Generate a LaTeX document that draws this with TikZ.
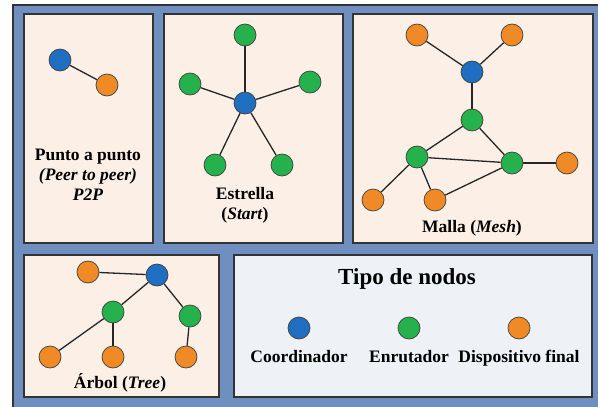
\documentclass[tikz,border=0pt]{standalone}
\usepackage{fontspec}
\setmainfont{Liberation Serif}
\usepackage{xcolor}
\usepackage{tikz}

\definecolor{frameblue}{HTML}{6F8FC0}
\definecolor{panelfill}{HTML}{FCF0E6}
\definecolor{legendfill}{HTML}{EEF2F7}
\definecolor{coordblue}{HTML}{1F6EC2}
\definecolor{routgreen}{HTML}{25B14B}
\definecolor{devorange}{HTML}{F08A26}

\tikzset{
	panel/.style = {draw = black!80, line width = 1.3pt, fill = panelfill},
	nd/.style = {circle, draw = black!75, line width = 0.7pt, minimum size = 22pt, inner sep = 0pt},
	coord/.style = {nd, fill = coordblue},
	rout/.style = {nd, fill = routgreen},
	dev/.style = {nd, fill = devorange},
	lbl/.style = {font = \fontsize{17.5}{20}\selectfont\bfseries, align = center},
	lnk/.style = {draw = black!85, line width = 1.3pt}
}

\begin{document}
\begin{tikzpicture}[x = 1pt, y = -1pt]
	\useasboundingbox (0,0) rectangle (598,407);
	\begin{scope}
	\clip (0,0) rectangle (598,407);
	\draw[fill = frameblue, draw = black!80, line width = 1.5pt] (13,5) rectangle (605,415);
	\end{scope}
	% panels
	\draw[panel] (24,14) rectangle (153,243);
	\draw[panel] (164,14) rectangle (343,243);
	\draw[panel] (353,14) rectangle (593,243);
	\draw[panel] (24,255) rectangle (219,397);
	\draw[panel, fill = legendfill] (234,255) rectangle (592,397);

	% punto a punto
	\node[coord] (p1) at (60,60) {};
	\node[dev] (p2) at (107,85) {};
	\draw[lnk] (p1) -- (p2);
	\node[lbl] (ptxt) at (88,175) {Punto a punto\\\textit{(Peer to peer)}\\\textit{P2P}};

	% estrella
	\node[coord] (s0) at (245,103) {};
	\node[rout] (s1) at (245,35) {};
	\node[rout] (s2) at (190,84) {};
	\node[rout] (s3) at (310,82) {};
	\node[rout] (s4) at (215,165) {};
	\node[rout] (s5) at (282,165) {};
	\foreach \i in {1,...,5} {
	\draw[lnk] (s0) -- (s\i);
	}
	\node[lbl] (stxt) at (245,205) {Estrella\\(\textit{Start})};

	% malla
	\node[dev] (m1) at (417,35) {};
	\node[dev] (m2) at (512,35) {};
	\node[coord] (m3) at (472,72) {};
	\node[rout] (m4) at (472,120) {};
	\node[rout] (m5) at (417,157) {};
	\node[rout] (m6) at (512,163) {};
	\node[dev] (m7) at (567,163) {};
	\node[dev] (m8) at (373,200) {};
	\node[dev] (m9) at (435,200) {};
	\foreach \a/\b in {m1/m3, m2/m3, m3/m4, m4/m5, m4/m6, m5/m6, m6/m7, m5/m8, m5/m9, m9/m6} {
	\draw[lnk] (\a) -- (\b);
	}
	\node[lbl] (mtxt) at (472,228) {Malla (\textit{Mesh})};

	% arbol
	\node[dev] (t1) at (88,272) {};
	\node[coord] (t2) at (157,275) {};
	\node[rout] (t3) at (113,312) {};
	\node[rout] (t4) at (190,316) {};
	\node[dev] (t5) at (50,357) {};
	\node[dev] (t6) at (113,357) {};
	\node[dev] (t7) at (186,357) {};
	\foreach \a/\b in {t1/t2, t2/t3, t2/t4, t3/t5, t3/t6, t4/t7} {
	\draw[lnk] (\a) -- (\b);
	}
	\node[lbl] (ttxt) at (120,383) {Árbol (\textit{Tree})};

	% tipo de nodos
	\node[lbl, font = \fontsize{23}{26}\selectfont\bfseries] (ltit) at (407,279) {Tipo de nodos};
	\node[coord] (l1) at (299,328) {};
	\node[rout] (l2) at (409,328) {};
	\node[dev] (l3) at (519,328) {};
	\node[lbl, anchor = north] (l1t) at ([yshift = -7pt]l1.south) {Coordinador};
	\node[lbl, anchor = north] (l2t) at ([yshift = -7pt]l2.south) {Enrutador};
	\node[lbl, anchor = north] (l3t) at ([yshift = -7pt]l3.south) {Dispositivo final};
\end{tikzpicture}
\end{document}
